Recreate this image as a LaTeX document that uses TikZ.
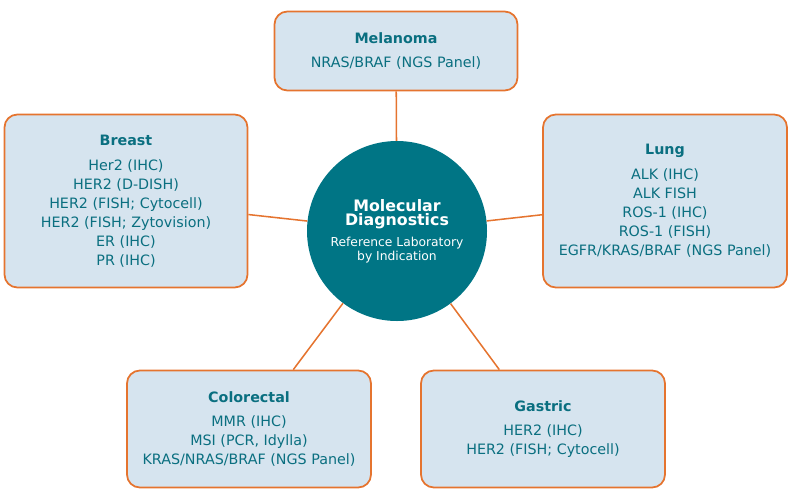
\documentclass[tikz,border=0pt]{standalone}
\usepackage{fontspec}
\setmainfont{DejaVu Sans}
\usetikzlibrary{positioning}
\definecolor{mdteal}{HTML}{0A6F80}
\definecolor{hubfill}{HTML}{007585}
\definecolor{boxfill}{HTML}{D6E4EF}
\definecolor{edge}{HTML}{E5742F}
\newcommand{\hubtitle}[1]{\textbf{\fontsize{13.5}{19}\selectfont #1}}
\newcommand{\hubsub}[1]{{\fontsize{10.5}{14.5}\selectfont #1}}
\begin{document}
\begin{tikzpicture}[x=0.03cm, y=-0.03cm]
        \tikzset{
          box/.style={draw=edge, fill=boxfill, line width=1.5pt, rounded corners=11pt, align=center,
                      text=mdteal, font=\fontsize{12.2}{16.2}\selectfont, inner sep=0pt},
          hub/.style={circle, fill=hubfill, text=white, align=center, minimum size=5.4cm, inner sep=0pt},
          link/.style={draw=edge, line width=1.3pt}
        }
        \useasboundingbox (0,0) rectangle (792,500);

        \node [hub] (MD) at (397,231) {\hubtitle{Molecular}\\ \hubtitle{Diagnostics}\\[6pt]
            \hubsub{Reference Laboratory}\\ \hubsub{by Indication}};

        \node [box, minimum width=7.29cm, minimum height=2.37cm] (Mel) at (396,51)
            {\textbf{Melanoma}\\[5pt] NRAS/BRAF (NGS Panel)};
        \node [box, minimum width=7.29cm, minimum height=5.19cm] (Bre) at (126,201)
            {\textbf{Breast}\\[5pt] Her2 (IHC)\\ HER2 (D-DISH)\\ HER2 (FISH; Cytocell)\\ HER2 (FISH; Zytovision)\\ ER (IHC)\\ PR (IHC)};
        \node [box, minimum width=7.32cm, minimum height=5.19cm] (Lun) at (665,201)
            {\textbf{Lung}\\[5pt] ALK (IHC)\\ ALK FISH\\ ROS-1 (IHC)\\ ROS-1 (FISH)\\ EGFR/KRAS/BRAF (NGS Panel)};
        \node [box, minimum width=7.32cm, minimum height=3.51cm] (Col) at (249,429)
            {\textbf{Colorectal}\\[5pt] MMR (IHC)\\ MSI (PCR, Idylla)\\ KRAS/NRAS/BRAF (NGS Panel)};
        \node [box, minimum width=7.32cm, minimum height=3.51cm] (Gas) at (543,429)
            {\textbf{Gastric}\\[5pt] HER2 (IHC)\\ HER2 (FISH; Cytocell)};

        \draw [link] (MD) -- (Mel);
        \draw [link] (MD) -- (Bre);
        \draw [link] (MD) -- (Lun);
        \draw [link] (MD) -- (Col);
        \draw [link] (MD) -- (Gas);
\end{tikzpicture}
\end{document}
